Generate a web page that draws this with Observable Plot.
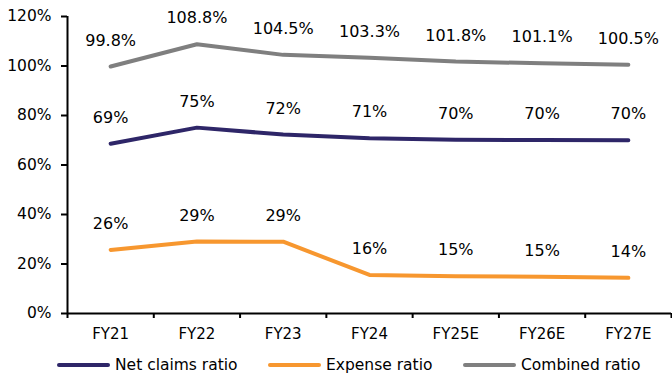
<!DOCTYPE html>
<html>
<head>
<meta charset="utf-8">
<script src="https://cdn.jsdelivr.net/npm/d3@7"></script>
<script src="https://cdn.jsdelivr.net/npm/@observablehq/plot@0.6"></script>
<style>
  html, body { margin: 0; padding: 0; background: #fff; }
  body { width: 672px; height: 376px; overflow: hidden; font-family: "DejaVu Sans", Verdana, sans-serif; }
  #legend { position: relative; height: 30px; font-size: 15.5px; color: #000; }
  .item { position: absolute; top: 9px; display: flex; align-items: center; line-height: 20px; }
  .sw { width: 53px; height: 4px; margin-right: 5px; border-radius: 2px; }
</style>
</head>
<body>
<div id="chart"></div>
<div id="legend"></div>
<script>
const years = ["FY21", "FY22", "FY23", "FY24", "FY25E", "FY26E", "FY27E"];
const netClaims = [68.6, 75.1, 72.3, 70.8, 70.2, 70.1, 70.0];
const expense = [25.7, 29.1, 29.0, 15.6, 15.1, 14.8, 14.4];
const combined = [99.8, 108.8, 104.5, 103.3, 101.8, 101.1, 100.5];
const seriesNames = ["Net claims ratio", "Expense ratio", "Combined ratio"];
const seriesColors = ["#2E2668", "#F7972F", "#7F7F7F"];
const labelDigits = [0, 0, 1];
const yTicks = [0, 20, 40, 60, 80, 100, 120];

const allSeries = [netClaims, expense, combined];
const rows = [];
allSeries.forEach((vals, s) => {
  vals.forEach((v, i) => rows.push({series: seriesNames[s], i: i + 0.5, year: years[i], value: v, digits: labelDigits[s]}));
});
const bounds = d3.range(years.length + 1);
const centers = years.map((_, i) => i + 0.5);

const plot = Plot.plot({
  width: 672,
  height: 346,
  marginLeft: 67,
  marginRight: 1,
  marginTop: 16,
  marginBottom: 33,
  style: {fontFamily: "DejaVu Sans, Verdana, sans-serif", fontSize: "15px", color: "#000", background: "#fff"},
  x: {domain: [0, years.length], axis: null},
  y: {domain: [0, 120], axis: null},
  color: {domain: seriesNames, range: seriesColors},
  marks: [
    Plot.axisY({ticks: yTicks, tickFormat: d => d + "%", tickSize: 6, tickPadding: 10, strokeWidth: 2, fontSize: 15.5, label: null}),
    Plot.axisX({ticks: bounds, tickFormat: () => "", tickSize: 5, strokeWidth: 2, label: null}),
    Plot.axisX({ticks: centers, tickFormat: d => years[Math.round(d - 0.5)], tickSize: 0, tickPadding: 15, fontSize: 15, label: null}),
    Plot.ruleX([0], {stroke: "#000", strokeWidth: 2}),
    Plot.ruleY([0], {stroke: "#000", strokeWidth: 2}),
    Plot.line(rows, {x: "i", y: "value", z: "series", stroke: "series", strokeWidth: 4, curve: "linear"}),
    Plot.text(rows, {x: "i", y: "value", text: d => d.value.toFixed(d.digits) + "%", dy: -26, fontSize: 16, fill: "#000"})
  ]
});
document.getElementById("chart").appendChild(plot);

const legend = document.getElementById("legend");
const lefts = [57, 268, 463];
seriesNames.forEach((name, k) => {
  const it = document.createElement("div");
  it.className = "item";
  it.style.left = lefts[k] + "px";
  const sw = document.createElement("div");
  sw.className = "sw";
  sw.style.background = seriesColors[k];
  const tx = document.createElement("span");
  tx.textContent = name;
  it.appendChild(sw);
  it.appendChild(tx);
  legend.appendChild(it);
});
</script>
</body>
</html>
